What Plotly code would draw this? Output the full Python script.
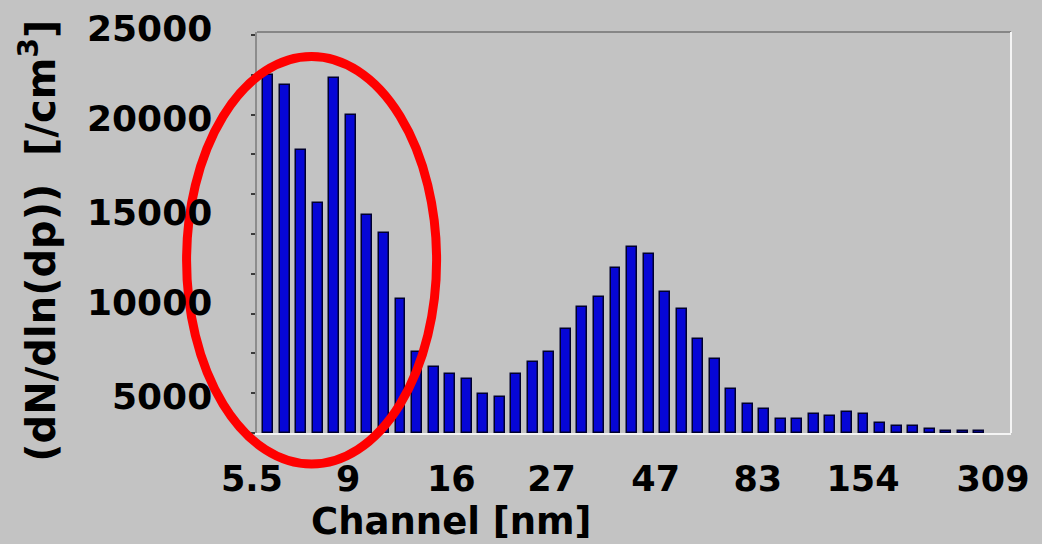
import plotly.graph_objects as go

# ---- data ----
channel_index = list(range(44))
concentration = [22490, 21860, 17780, 14470, 22280, 19980, 13690, 12580, 8400, 5110,
                 4170, 3710, 3370, 2450, 2280, 3710, 4460, 5090, 6510, 7900,
                 8560, 10360, 11660, 11230, 8880, 7770, 5910, 4650, 2750, 1820,
                 1510, 880, 880, 1190, 1070, 1340, 1190, 610, 440, 440,
                 270, 150, 150, 150]

# x tick labels (channel diameters, nm) and their positions in channel-index units
x_tick_labels = ["5.5", "9", "16", "27", "47", "83", "154", "309"]
x_tick_pos = [-0.98, 4.84, 11.08, 17.14, 23.44, 29.62, 35.98, 43.84]

# y labels as printed on the reference and their vertical positions (paper units)
y_tick_labels = ["25000", "20000", "15000", "10000", "5000"]
y_tick_label_pos = [1.0075, 0.7855, 0.5506, 0.3242, 0.0898]

BG = "#c3c3c3"
FONT = "DejaVu Sans"

fig = go.Figure()
fig.add_trace(go.Bar(
    x=channel_index,
    y=concentration,
    width=0.6,
    marker=dict(color="#0606d6", line=dict(color="#00002e", width=1.5)),
    hoverinfo="skip",
))

shift_px = 17
shift = shift_px / 16.67  # labels placed right by this, then shifted back by pixels
fig.update_xaxes(
    range=[-0.68, 44.92],
    tickmode="array",
    tickvals=[p + shift for p in x_tick_pos],
    ticktext=x_tick_labels,
    ticklabelshift=-shift_px,
    ticks="",
    ticklabelstandoff=14,
    tickfont=dict(family=FONT, size=35, color="black", weight="bold"),
    showgrid=False,
    zeroline=False,
    showline=True,
    linecolor="#f4f4f4",
    linewidth=2,
)
fig.update_yaxes(
    range=[0, 25190],
    tick0=0,
    dtick=2500,
    ticks="outside",
    ticklen=4,
    tickwidth=2,
    tickcolor="#3a3a3a",
    showticklabels=False,
    showgrid=False,
    zeroline=False,
    showline=True,
    linecolor="#8c8c8c",
    linewidth=2,
)

annotations = []
for lab, yp in zip(y_tick_labels, y_tick_label_pos):
    annotations.append(dict(
        text=lab, xref="paper", yref="paper", x=-0.0566, y=yp,
        xanchor="right", yanchor="middle", showarrow=False,
        font=dict(family=FONT, size=36, color="black", weight="bold"),
    ))
annotations.append(dict(
    text="Channel [nm]", xref="paper", yref="paper", x=0.258, y=-0.2195,
    xanchor="center", yanchor="middle", showarrow=False,
    font=dict(family=FONT, size=37, color="black", weight="bold"),
))
annotations.append(dict(
    text="(dN/dln(dp))  [/cm<sup>3</sup>]", xref="paper", yref="paper",
    x=-0.2908, y=0.479, textangle=-90,
    xanchor="center", yanchor="middle", showarrow=False,
    font=dict(family=FONT, size=40, color="black", weight="bold"),
))

shapes = [
    # top border (dark) and right border (light) of the inset plot panel
    dict(type="line", xref="paper", yref="paper", x0=0, x1=1, y0=1, y1=1,
         line=dict(color="#868686", width=2)),
    dict(type="line", xref="paper", yref="paper", x0=1, x1=1, y0=0, y1=1,
         line=dict(color="#f4f4f4", width=2)),
    # red highlight ellipse
    dict(type="circle", xref="paper", yref="paper",
         x0=-0.0934, x1=0.2382, y0=-0.0773, y1=0.9390,
         line=dict(color="#ff0000", width=9), layer="above"),
]

fig.update_layout(
    width=1042, height=544,
    margin=dict(l=257, r=25, t=32, b=111),
    paper_bgcolor=BG, plot_bgcolor=BG,
    showlegend=False,
    bargap=0,
    annotations=annotations,
    shapes=shapes,
)

fig.write_html("out.html")
